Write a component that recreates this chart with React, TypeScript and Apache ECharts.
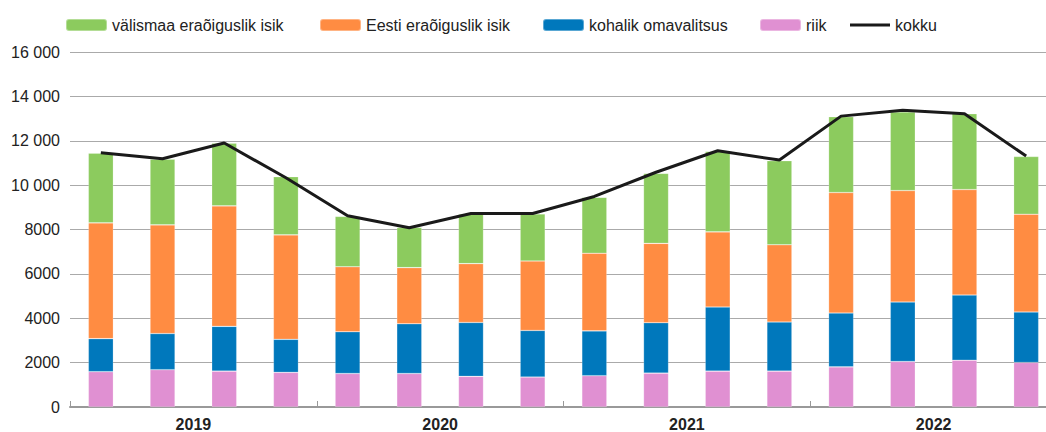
import React, { useEffect, useRef } from "react";
import * as echarts from "echarts";

const quarters = [
  "2019 I", "2019 II", "2019 III", "2019 IV",
  "2020 I", "2020 II", "2020 III", "2020 IV",
  "2021 I", "2021 II", "2021 III", "2021 IV",
  "2022 I", "2022 II", "2022 III", "2022 IV",
];
const years = ["2019", "2020", "2021", "2022"];

const riik = [1590, 1680, 1615, 1560, 1510, 1510, 1380, 1350, 1410, 1525, 1615, 1615, 1810, 2050, 2110, 2005];
const kohalikOmavalitsus = [1490, 1630, 2020, 1490, 1880, 2240, 2430, 2100, 2020, 2275, 2890, 2215, 2425, 2680, 2935, 2275];
const eestiEraoiguslik = [5220, 4900, 5430, 4710, 2930, 2530, 2650, 3130, 3500, 3575, 3390, 3480, 5430, 5025, 4755, 4410];
const valismaaEraoiguslik = [3140, 2960, 2830, 2620, 2270, 1810, 2230, 2120, 2520, 3155, 3620, 3790, 3420, 3545, 3420, 2600];
const kokku = [11460, 11190, 11900, 10330, 8620, 8080, 8720, 8720, 9490, 10580, 11550, 11130, 13110, 13370, 13220, 11310];

const yTicks = { min: 0, max: 16000, interval: 2000 };

const FONT = "'Liberation Sans', Arial, Helvetica, sans-serif";
const TEXT = "#222222";

const C_GREEN = "#8ccb5e";
const C_ORANGE = "#ff8c42";
const C_BLUE = "#0078bc";
const C_PINK = "#e090d2";
const C_LINE = "#1a1a1a";

function fmt(v: number): string {
  if (v >= 10000) {
    const s = String(v);
    return s.slice(0, s.length - 3) + " " + s.slice(s.length - 3);
  }
  return String(v);
}

export default function App() {
  const ref = useRef<HTMLDivElement>(null);
  useEffect(() => {
    if (!ref.current) return;
    const chart = echarts.init(ref.current, null, { renderer: "svg" });
    const legendText = { fontFamily: FONT, fontSize: 16, color: TEXT };
    const mkLegend = (name: string, left: number, extra: any = {}) => ({
      data: [name],
      left,
      top: 17,
      itemWidth: 41,
      itemHeight: 12,
      itemGap: 0,
      padding: 0,
      textStyle: legendText,
      ...extra,
    });
    const barSeries = (name: string, data: number[], color: string) => ({
      name,
      type: "bar",
      stack: "total",
      data,
      barWidth: 25,
      xAxisIndex: 0,
      itemStyle: { color, borderColor: "rgba(255,255,255,0.35)", borderWidth: 0.6 },
    });
    chart.setOption({
      animation: false,
      legend: [
        mkLegend("välismaa eraõiguslik isik", 65),
        mkLegend("Eesti eraõiguslik isik", 319),
        mkLegend("kohalik omavalitsus", 542),
        mkLegend("riik", 759),
        mkLegend("kokku", 850, {
          icon: "rect",
          itemHeight: 3,
          itemWidth: 40,
        }),
      ],
      grid: { left: 70, right: 3, top: 52, bottom: 23.3, containLabel: false },
      xAxis: [
        {
          type: "category",
          data: quarters,
          show: false,
          boundaryGap: true,
        },
        {
          type: "category",
          data: years,
          position: "bottom",
          boundaryGap: true,
          axisLine: { show: true, lineStyle: { color: "#999999", width: 2 } },
          axisTick: { show: true, inside: true, length: 6, lineStyle: { color: "#999999", width: 1 } },
          axisLabel: {
            fontFamily: FONT,
            fontSize: 16,
            fontWeight: "bold",
            color: TEXT,
            margin: 9,
          },
          splitLine: { show: false },
        },
      ],
      yAxis: {
        type: "value",
        min: yTicks.min,
        max: yTicks.max,
        interval: yTicks.interval,
        axisLine: { show: false },
        axisTick: { show: false },
        axisLabel: {
          fontFamily: FONT,
          fontSize: 16,
          color: TEXT,
          margin: 10,
          formatter: (v: number) => fmt(v),
        },
        splitLine: { show: true, lineStyle: { color: "#aaaaaa", width: 1 } },
      },
      series: [
        barSeries("riik", riik, C_PINK),
        barSeries("kohalik omavalitsus", kohalikOmavalitsus, C_BLUE),
        barSeries("Eesti eraõiguslik isik", eestiEraoiguslik, C_ORANGE),
        barSeries("välismaa eraõiguslik isik", valismaaEraoiguslik, C_GREEN),
        {
          name: "kokku",
          type: "line",
          data: kokku,
          xAxisIndex: 0,
          symbol: "none",
          showSymbol: false,
          lineStyle: { color: C_LINE, width: 3 },
          itemStyle: { color: C_LINE },
          z: 10,
        },
      ],
    });
    return () => chart.dispose();
  }, []);
  return (
    <div style={{ position: "fixed", left: 0, top: 0, width: 1046, height: 432, overflow: "hidden", background: "#fff" }}>
      <div ref={ref} style={{ width: 1060, height: 432 }} />
    </div>
  );
}
